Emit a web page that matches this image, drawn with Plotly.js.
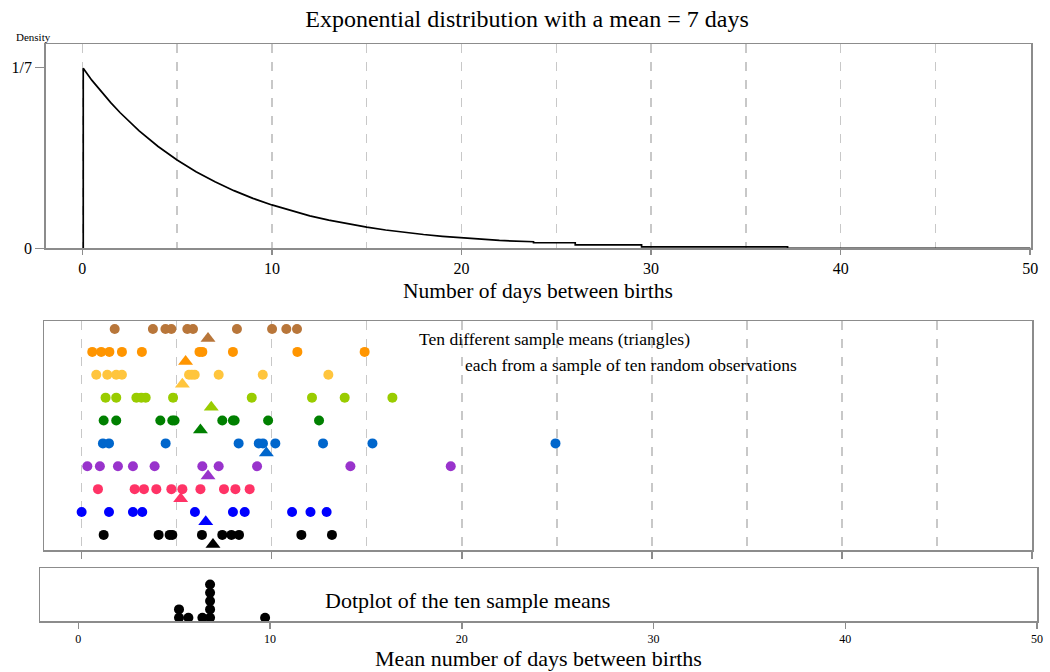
<!DOCTYPE html>
<html>
<head>
<meta charset="utf-8">
<script src="https://cdn.plot.ly/plotly-3.0.1.min.js"></script>
<style>html,body{margin:0;padding:0;background:#fff;}#chart{width:1050px;height:672px;}</style>
</head>
<body>
<div id="chart"></div>
<script>
// ---- Top panel: exponential density (mean = 7 days) ----
const curveX = [0.05, 0.05, 0.5, 1, 1.5, 2, 3, 4, 5, 6, 7, 8, 9, 10, 11, 12, 13, 14, 15, 16, 17, 18, 19, 20, 21, 22, 23.8, 23.8, 26, 26, 29.5, 29.5, 37.2, 37.2, 50];
const curveY = [0, 0.1425, 0.133, 0.1238, 0.1152, 0.1072, 0.0929, 0.0805, 0.0699, 0.0606, 0.0526, 0.0456, 0.0395, 0.0343, 0.0297, 0.0257, 0.0223, 0.0193, 0.0168, 0.0145, 0.0126, 0.0109, 0.0095, 0.0082, 0.0071, 0.0062, 0.0052, 0.0044, 0.0044, 0.0027, 0.0027, 0.0011, 0.0011, 0, 0];
const densityTickVals = [0, 1/7];
const densityTickText = ['0', '1/7'];
const dayTicks = [0, 10, 20, 30, 40, 50];

// ---- Middle panel: ten samples of ten observations (top row first) ----
const sampleNames = ['Sample 1','Sample 2','Sample 3','Sample 4','Sample 5','Sample 6','Sample 7','Sample 8','Sample 9','Sample 10'];
const sampleRows = [10, 9, 8, 7, 6, 5, 4, 3, 2, 1];
const sample1 = [1.74, 3.75, 4.41, 4.72, 5.56, 5.86, 8.17, 10.02, 10.77, 11.33];
const sample2 = [0.56, 1.03, 1.46, 2.12, 3.17, 6.2, 6.35, 7.96, 11.35, 14.89];
const sample3 = [0.77, 1.35, 1.82, 2.12, 5.65, 5.8, 5.95, 7.21, 9.53, 12.98];
const sample4 = [1.26, 1.82, 2.88, 3.14, 3.37, 4.81, 8.95, 12.12, 13.84, 16.35];
const sample5 = [1.16, 1.82, 4.14, 4.77, 4.89, 7.4, 7.96, 8.05, 9.81, 12.49];
const sample6 = [1.12, 1.44, 4.42, 8.26, 9.32, 9.54, 10.19, 12.7, 15.3, 24.93];
const sample7 = [0.3, 0.96, 1.91, 2.7, 3.84, 6.35, 7.21, 9.23, 14.14, 19.42];
const sample8 = [0.86, 2.79, 3.28, 3.93, 4.72, 5.3, 6.25, 7.49, 8.09, 8.84];
const sample9 = [0, 1.44, 2.7, 3.19, 5.96, 7.96, 8.58, 11.07, 12.04, 12.89];
const sample10 = [1.16, 4.05, 4.63, 4.77, 6.33, 7.4, 7.88, 8.28, 11.56, 13.17];
const sampleMeans = [6.65, 5.47, 5.3, 6.82, 6.25, 9.72, 6.65, 5.21, 6.53, 6.91];
const sampleColors = ['#b8763a', '#ff9500', '#ffc53d', '#99cc00', '#008000', '#0066cc', '#9933cc', '#ff3366', '#0000ff', '#000000'];

// ---- Bottom panel: dotplot of the ten sample means ----
const dotMeans = [5.25, 5.25, 5.74, 6.47, 6.87, 6.87, 6.87, 6.87, 6.87, 9.74];
const dotStack = [1, 2, 1, 1, 1, 2, 3, 4, 5, 1];

const FONT = 'Liberation Serif, Times New Roman, serif';
const samples = [sample1, sample2, sample3, sample4, sample5, sample6, sample7, sample8, sample9, sample10];
const MEAN_OFFSET = 0.42;

const traces = [];
traces.push({
  x: curveX, y: curveY, type: 'scatter', mode: 'lines',
  line: {color: '#000', width: 1.7}, xaxis: 'x', yaxis: 'y', hoverinfo: 'skip'
});
samples.forEach((s, i) => {
  traces.push({
    x: s, y: s.map(() => sampleRows[i]), type: 'scatter', mode: 'markers', name: sampleNames[i],
    marker: {color: sampleColors[i], size: 10, line: {width: 0}}, xaxis: 'x2', yaxis: 'y2'
  });
  traces.push({
    x: [sampleMeans[i]], y: [sampleRows[i] - MEAN_OFFSET], type: 'scatter', mode: 'markers',
    marker: {color: sampleColors[i], size: 13, symbol: 'triangle-up', line: {width: 0}}, xaxis: 'x2', yaxis: 'y2'
  });
});
traces.push({
  x: dotMeans, y: dotStack, type: 'scatter', mode: 'markers',
  marker: {color: '#000', size: 10, line: {width: 0}}, xaxis: 'x3', yaxis: 'y3'
});

const W = 1050, H = 672;
const fx = p => p / W;
const fy = p => (H - p) / H;
const boxLine = {showline: true, mirror: true, linecolor: '#8c8c8c', linewidth: 1.5, zeroline: false};

const layout = {
  width: W, height: H, margin: {l: 0, r: 0, t: 0, b: 0},
  paper_bgcolor: '#fff', plot_bgcolor: '#fff', showlegend: false,
  font: {family: FONT, color: '#000'},
  title: {text: 'Exponential distribution with a mean = 7 days', x: 527 / W, xanchor: 'center', y: fy(19), yanchor: 'middle', font: {size: 24, family: FONT}},
  xaxis: Object.assign({}, boxLine, {
    domain: [fx(45.7), fx(1031)], range: [-1.93, 50.04], anchor: 'y',
    tickmode: 'array', tickvals: dayTicks, ticks: 'outside', ticklen: 5, tickcolor: '#8c8c8c', tickwidth: 1.5,
    tickfont: {size: 16}, showgrid: true, gridcolor: '#c8c8c8', griddash: 'dash', gridwidth: 1.5,
    minor: {dtick: 5, tick0: 0, showgrid: true, gridcolor: '#c8c8c8', griddash: 'dash', gridwidth: 1.5, ticks: ''}
  }),
  yaxis: Object.assign({}, boxLine, {
    domain: [fy(248.3), fy(44)], range: [0, 0.1616], anchor: 'x',
    tickmode: 'array', tickvals: densityTickVals, ticktext: densityTickText, ticks: 'outside', ticklen: 9,
    tickcolor: '#8c8c8c', tickwidth: 1.5, tickfont: {size: 16}, showgrid: false
  }),
  xaxis2: Object.assign({}, boxLine, {
    domain: [fx(44), fx(1032)], range: [-1.98, 50], anchor: 'y2',
    tickmode: 'array', tickvals: dayTicks, showticklabels: false, ticks: 'outside', ticklen: 7, tickcolor: '#8c8c8c', tickwidth: 1.5,
    showgrid: true, gridcolor: '#c8c8c8', griddash: 'dash', gridwidth: 1.5,
    minor: {dtick: 5, tick0: 0, showgrid: true, gridcolor: '#c8c8c8', griddash: 'dash', gridwidth: 1.5, ticks: ''}
  }),
  yaxis2: Object.assign({}, boxLine, {
    domain: [fy(550), fy(321)], range: [0.34, 10.35], anchor: 'x2',
    showticklabels: false, ticks: '', showgrid: false
  }),
  xaxis3: Object.assign({}, boxLine, {
    domain: [fx(40), fx(1037)], range: [-2.0, 50], anchor: 'y3',
    tickmode: 'array', tickvals: dayTicks, ticks: 'outside', ticklen: 6, tickcolor: '#8c8c8c', tickwidth: 1.5,
    tickfont: {size: 12}, showgrid: false,
    title: {text: 'Mean number of days between births', font: {size: 22}, standoff: 4}
  }),
  yaxis3: Object.assign({}, boxLine, {
    domain: [fy(621), fy(568.3)], range: [0.6, 6.95], anchor: 'x3',
    showticklabels: false, ticks: '', showgrid: false
  }),
  annotations: [
    {text: 'Density', xref: 'paper', yref: 'paper', x: fx(14), y: fy(37), xanchor: 'left', yanchor: 'middle', showarrow: false, font: {size: 11}},
    {text: 'Number of days between births', xref: 'paper', yref: 'paper', x: fx(538.4), y: fy(291), xanchor: 'center', yanchor: 'middle', showarrow: false, font: {size: 21.5}},
    {text: 'Ten different sample means (triangles)', xref: 'paper', yref: 'paper', x: fx(417), y: fy(339), xanchor: 'left', yanchor: 'middle', showarrow: false, font: {size: 17.6}},
    {text: 'each from a sample of ten random observations', xref: 'paper', yref: 'paper', x: fx(463), y: fy(365), xanchor: 'left', yanchor: 'middle', showarrow: false, font: {size: 17.5}},
    {text: 'Dotplot of the ten sample means', xref: 'paper', yref: 'paper', x: fx(323), y: fy(600), xanchor: 'left', yanchor: 'middle', showarrow: false, font: {size: 22}}
  ]
};

Plotly.newPlot('chart', traces, layout, {staticPlot: true, displayModeBar: false});
</script>
</body>
</html>
